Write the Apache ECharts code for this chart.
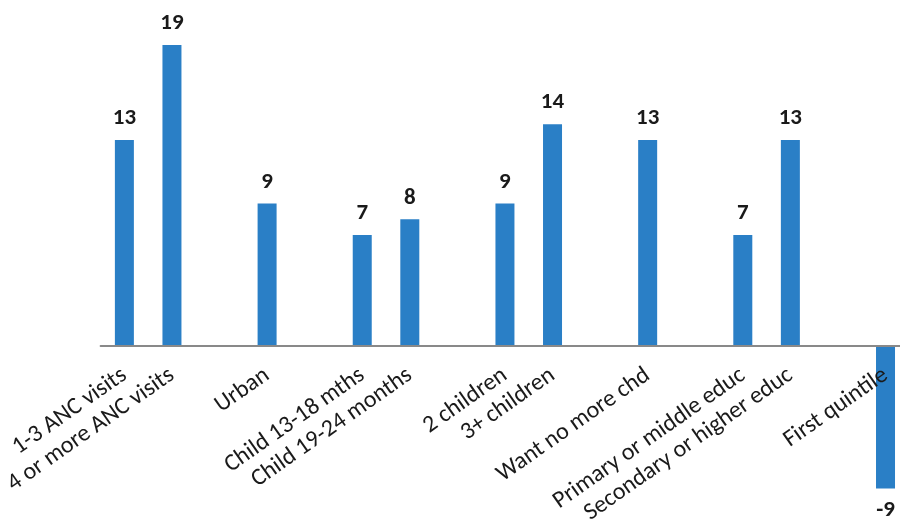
<!DOCTYPE html>
<html><head><meta charset="utf-8">
<script src="https://cdn.jsdelivr.net/npm/echarts@6/dist/echarts.min.js"></script>
<style>html,body{margin:0;padding:0;background:#fff}#c{width:900px;height:521px}</style>
</head><body><div id="c"></div>
<script>
const categories = ["1-3 ANC visits","4 or more ANC visits","","Urban","","Child 13-18 mths","Child 19-24 months","","2 children","3+ children","","Want no more chd","","Primary or middle educ","Secondary or higher educ","","First quintile"];
const values = [13,19,null,9,null,7,8,null,9,14,null,13,null,7,13,null,-9];

const chart = echarts.init(document.getElementById('c'));
chart.setOption({
  animation:false,
  grid:{left:100.6,right:-9.3,top:45,bottom:175,containLabel:false,outerBoundsMode:'none'},
  xAxis:{type:'category',data:categories,z:5,
    axisLine:{onZero:false,lineStyle:{color:'#898989',width:2}},
    axisTick:{show:false},
    axisLabel:{interval:0,rotate:35,margin:27,color:'#1a1a1a',fontSize:24,fontFamily:'Carlito, "Open Sans", sans-serif'}},
  yAxis:{type:'value',min:0,max:19,show:false,splitLine:{show:false}},
  series:[{type:'bar',barWidth:19,clip:false,z:2,
    data:values.map(v=>v===null?null:{value:v,label:{position:v<0?'bottom':'top'}}),
    itemStyle:{color:'#2a7fc6'},
    label:{show:true,distance:10,color:'#1a1a1a',fontWeight:'bold',fontSize:23,fontFamily:'Carlito, "Open Sans", sans-serif'}}]
});
</script></body></html>
